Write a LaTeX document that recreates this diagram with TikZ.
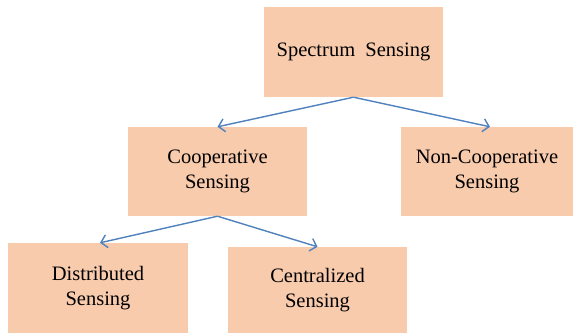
\documentclass[tikz,border=0pt]{standalone}
\usepackage{fontspec}
\setmainfont{Liberation Serif}
\usetikzlibrary{arrows.meta}

\definecolor{peach}{HTML}{F8CBAD}
\definecolor{linkblue}{HTML}{4F81BD}

\begin{document}
\begin{tikzpicture}[
    x=1pt, y=-1pt, % pixel-like units, y grows downwards
    box/.style={
        fill=peach, % light orange fill, no border
        align=center, % Center text within nodes
        inner sep=0pt,
        font=\fontsize{20.5}{25}\selectfont
    },
    link/.style={draw=linkblue, line width=1.4pt, -{Straight Barb[length=6pt,width=13pt]}}
]
\useasboundingbox (0,0) rectangle (573,333);

% top level
\node[box, minimum width=179pt, minimum height=90pt] (spec) at (353.5,52) {Spectrum\ \ Sensing};

% second level
\node[box, minimum width=179pt, minimum height=89pt] (coop) at (217.5,171.5) {Cooperative\\Sensing};
\node[box, minimum width=172pt, minimum height=89pt] (noncoop) at (487,171.5) {Non-Cooperative\\Sensing};

% third level
\node[box, minimum width=180pt, minimum height=90pt] (dist) at (98,288) {Distributed\\Sensing};
\node[box, minimum width=179pt, minimum height=86pt] (cent) at (317.5,290) {Centralized\\Sensing};

\draw[link] (spec.south) -- (coop.north);
\draw[link] (spec.south) -- ([xshift=3pt]noncoop.north);
\draw[link] (coop.south) -- ([xshift=2pt]dist.north);
\draw[link] (coop.south) -- (cent.north);
\end{tikzpicture}
\end{document}
